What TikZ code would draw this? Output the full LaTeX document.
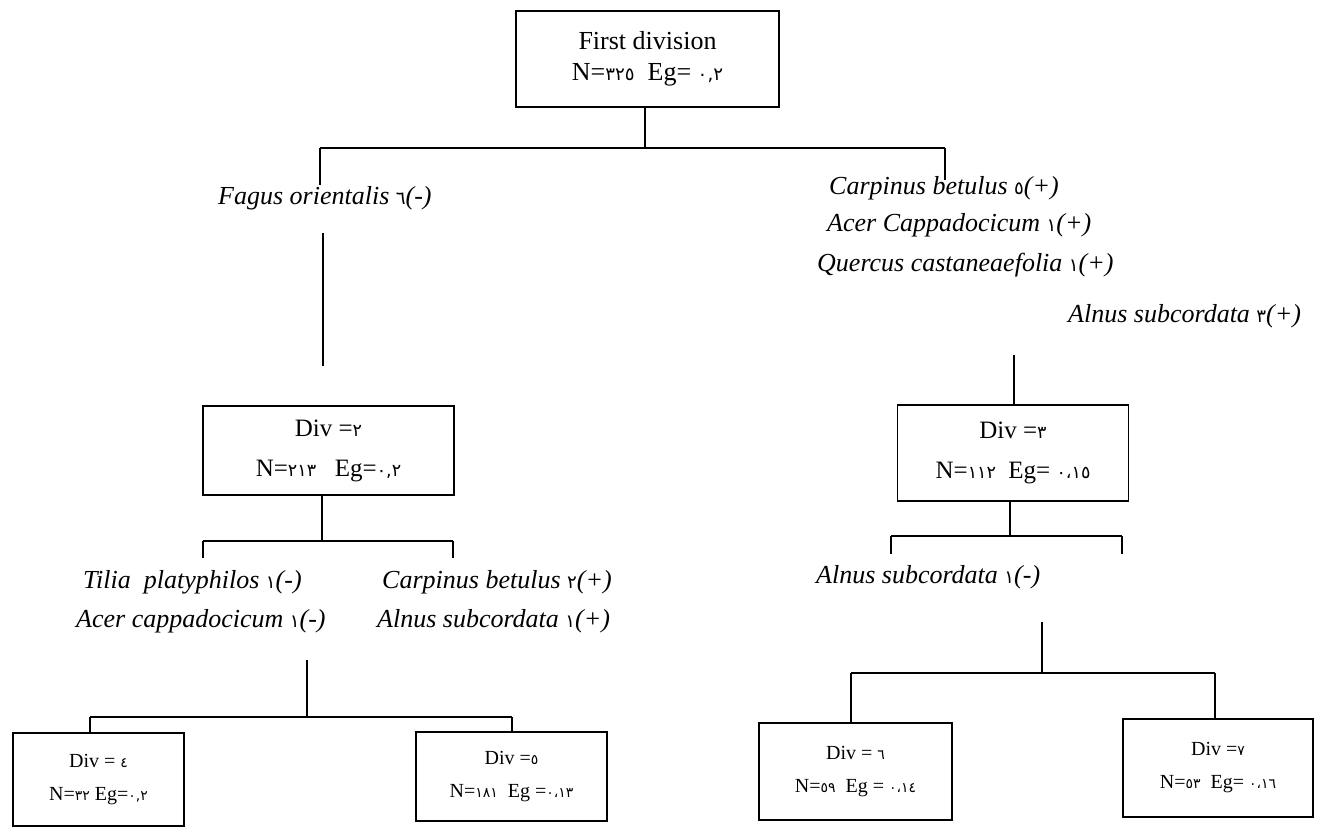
\documentclass[tikz,border=0pt]{standalone}
\usepackage{fontspec}
\setmainfont{Liberation Serif}
\newfontfamily\arfont{DejaVu Sans}[Scale=0.7]
\newcommand{\ad}[1]{{\arfont\upshape #1}}
\begin{document}
\begin{tikzpicture}[x=1pt,y=-1pt,
  ln/.style={line width=1.3pt},
  bx/.style={draw, line width=1.4pt, inner sep=0pt, align=center},
  sp/.style={anchor=base west, inner sep=0pt, font=\fontsize{26}{30}\selectfont\itshape},
  bigtxt/.style={font=\fontsize{25}{40}\selectfont},
  smalltxt/.style={font=\fontsize{20}{33}\selectfont}]
\useasboundingbox (0,0) rectangle (1317,829);
\fill[white] (0,0) rectangle (1317,829);

% boxes
\node[bx, minimum width=263pt, minimum height=96pt, font=\fontsize{26}{31}\selectfont] (top) at (647.5,59)
  {First division\\N=\ad{٣٢٥}\ \ Eg= \ad{٠,٢}};
\node[bx, bigtxt, minimum width=251pt, minimum height=89pt] (d2) at (328.5,450.5)
  {Div =\ad{٢}\\N=\ad{٢١٣}\ \ \ Eg=\ad{٠,٢}};
\node[bx, bigtxt, minimum width=231pt, minimum height=96pt] (d3) at (1013,453)
  {Div =\ad{٣}\\N=\ad{١١٢}\ \ Eg= \ad{٠،١٥}};
\node[bx, smalltxt, minimum width=171pt, minimum height=93pt] (d4) at (98.5,779.5)
  {Div = \ad{٤}\\N=\ad{٣٢} Eg=\ad{٠,٢}};
\node[bx, smalltxt, minimum width=191pt, minimum height=89pt] (d5) at (511.5,776.5)
  {Div =\ad{٥}\\N=\ad{١٨١}\ \ Eg =\ad{٠،١٣}};
\node[bx, smalltxt, minimum width=193pt, minimum height=97pt] (d6) at (855.5,771.5)
  {Div = \ad{٦}\\N=\ad{٥٩}\ \ Eg = \ad{٠،١٤}};
\node[bx, smalltxt, minimum width=190pt, minimum height=98pt] (d7) at (1218,768)
  {Div =\ad{٧}\\N=\ad{٥٣}\ \ Eg= \ad{٠،١٦}};

% species texts
\node[sp] (fagus) at (218,205) {Fagus orientalis \ad{٦}(-)};
\node[sp] (r1) at (829,195) {Carpinus betulus \ad{٥}(+)};
\node[sp] (r2) at (827,232) {Acer Cappadocicum \ad{١}(+)};
\node[sp] (r3) at (817,271) {Quercus castaneaefolia \ad{١}(+)};
\node[sp] (r4) at (1068,322) {Alnus subcordata \ad{٣}(+)};
\node[sp] (l1) at (83,588) {Tilia\ \ platyphilos \ad{١}(-)};
\node[sp] (l2) at (76,627) {Acer cappadocicum \ad{١}(-)};
\node[sp] (l3) at (382,588) {Carpinus betulus \ad{٢}(+)};
\node[sp] (l4) at (377,627) {Alnus subcordata \ad{١}(+)};
\node[sp] (m1) at (816,583) {Alnus subcordata \ad{١}(-)};

% connectors: top split
\coordinate (a0) at (645,148);
\coordinate (a1) at (320,148);
\coordinate (a2) at (945,148);
\coordinate (a1e) at (320,185);
\coordinate (a2e) at (945,180);
\draw[ln] (a0 |- top.south) -- (a0);
\draw[ln] (a1) -- (a2);
\draw[ln] (a1) -- (a1e);
\draw[ln] (a2) -- (a2e);

% free verticals above Div 2 and Div 3
\coordinate (b1) at (323,233);
\coordinate (b2) at (323,366);
\draw[ln] (b1) -- (b2);
\coordinate (c1) at (1014,355);
\draw[ln] (c1) -- (c1 |- d3.north);

% split under Div 2
\coordinate (e0) at (322,541);
\coordinate (e1) at (203,541);
\coordinate (e2) at (453,541);
\coordinate (e1e) at (203,558);
\coordinate (e2e) at (453,558);
\draw[ln] (e0 |- d2.south) -- (e0);
\draw[ln] (e1) -- (e2);
\draw[ln] (e1) -- (e1e);
\draw[ln] (e2) -- (e2e);

% split to Div 4 / Div 5
\coordinate (f1) at (307,660);
\coordinate (f0) at (307,717);
\coordinate (f2) at (90,717);
\coordinate (f3) at (512,717);
\draw[ln] (f1) -- (f0);
\draw[ln] (f2) -- (f3);
\draw[ln] (f2) -- (f2 |- d4.north);
\draw[ln] (f3) -- (f3 |- d5.north);

% split under Div 3
\coordinate (g0) at (1010,536);
\coordinate (g1) at (891,536);
\coordinate (g2) at (1122,536);
\coordinate (g1e) at (891,554);
\coordinate (g2e) at (1122,554);
\draw[ln] (g0 |- d3.south) -- (g0);
\draw[ln] (g1) -- (g2);
\draw[ln] (g1) -- (g1e);
\draw[ln] (g2) -- (g2e);

% split to Div 6 / Div 7
\coordinate (k1) at (1042,622);
\coordinate (k0) at (1042,673);
\coordinate (k2) at (851,673);
\coordinate (k3) at (1215,673);
\draw[ln] (k1) -- (k0);
\draw[ln] (k2) -- (k3);
\draw[ln] (k2) -- (k2 |- d6.north);
\draw[ln] (k3) -- (k3 |- d7.north);
\end{tikzpicture}
\end{document}
